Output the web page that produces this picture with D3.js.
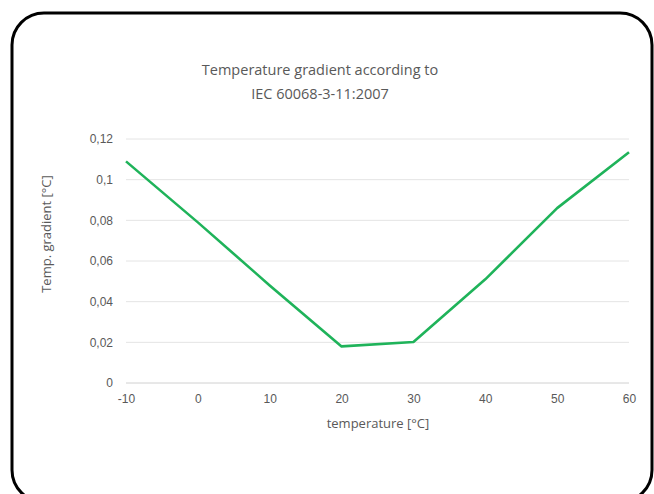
<!DOCTYPE html>
<html>
<head>
<meta charset="utf-8">
<script src="https://cdn.jsdelivr.net/npm/d3@7"></script>
<style>
  body { margin: 0; background: #fff; }
  svg { display: block; font-family: "Open Sans", "Noto Sans", sans-serif; }
</style>
</head>
<body>
<script>
// data
const temperatures = [-10, 0, 10, 20, 30, 40, 50, 60];
const gradients = [0.109, 0.079, 0.048, 0.018, 0.0202, 0.051, 0.086, 0.1135];
const y_ticks = [0, 0.02, 0.04, 0.06, 0.08, 0.1, 0.12];
const x_ticks = [-10, 0, 10, 20, 30, 40, 50, 60];
const title_lines = ["Temperature gradient according to", "IEC 60068-3-11:2007"];

const WIDTH = 654, HEIGHT = 494;
const TEXT_COLOR = "#595959";

const svg = d3.select("body").append("svg")
    .attr("width", WIDTH)
    .attr("height", HEIGHT);

// frame with rounded corners, bottom edge runs just past the window
svg.append("rect")
    .attr("x", 12).attr("y", 13)
    .attr("width", 640).attr("height", 489)
    .attr("rx", 32).attr("ry", 32)
    .attr("fill", "#fff")
    .attr("stroke", "#000")
    .attr("stroke-width", 3);

const x = d3.scaleLinear().domain([-10, 60]).range([126, 629]);
const y = d3.scaleLinear().domain([0, 0.12]).range([383, 139]);

// plain hyphen and decimal comma, like the original
const fmt_y = d => String(d).replace(".", ",");
const fmt_x = d => String(d);

// grid
svg.append("g")
    .selectAll("line")
    .data(y_ticks)
    .join("line")
    .attr("x1", x(-10)).attr("x2", x(60))
    .attr("y1", d => y(d)).attr("y2", d => y(d))
    .attr("stroke", d => d === 0 ? "#d0d0d0" : "#e4e4e4")
    .attr("stroke-width", 1);

// y axis labels
const y_axis = svg.append("g")
    .attr("transform", `translate(${x(-10)},0)`)
    .call(d3.axisLeft(y).tickValues(y_ticks).tickFormat(fmt_y).tickSize(0).tickPadding(13));
y_axis.select(".domain").remove();
y_axis.selectAll("text")
    .attr("fill", TEXT_COLOR)
    .style("font-size", "12px");

// x axis labels
const x_axis = svg.append("g")
    .attr("transform", `translate(0,${y(0)})`)
    .call(d3.axisBottom(x).tickValues(x_ticks).tickFormat(fmt_x).tickSize(0).tickPadding(11));
x_axis.select(".domain").remove();
x_axis.selectAll("text")
    .attr("fill", TEXT_COLOR)
    .style("font-size", "12px");

// the line
const line = d3.line()
    .x((d, i) => x(temperatures[i]))
    .y(d => y(d));

svg.append("path")
    .datum(gradients)
    .attr("d", line)
    .attr("fill", "none")
    .attr("stroke", "#1fb35a")
    .attr("stroke-width", 2.6)
    .attr("stroke-linejoin", "round");

// title
svg.append("text")
    .attr("x", 320).attr("y", 75)
    .attr("text-anchor", "middle")
    .attr("fill", TEXT_COLOR)
    .style("font-size", "14.5px")
    .selectAll("tspan")
    .data(title_lines)
    .join("tspan")
    .attr("x", 320)
    .attr("dy", (d, i) => i === 0 ? 0 : 24)
    .text(d => d);

// axis titles
svg.append("text")
    .attr("x", 378).attr("y", 428)
    .attr("text-anchor", "middle")
    .attr("fill", TEXT_COLOR)
    .style("font-size", "13px")
    .text("temperature [°C]");

svg.append("text")
    .attr("transform", "translate(51,234) rotate(-90)")
    .attr("text-anchor", "middle")
    .attr("fill", TEXT_COLOR)
    .style("font-size", "13px")
    .text("Temp. gradient [°C]");
</script>
</body>
</html>
